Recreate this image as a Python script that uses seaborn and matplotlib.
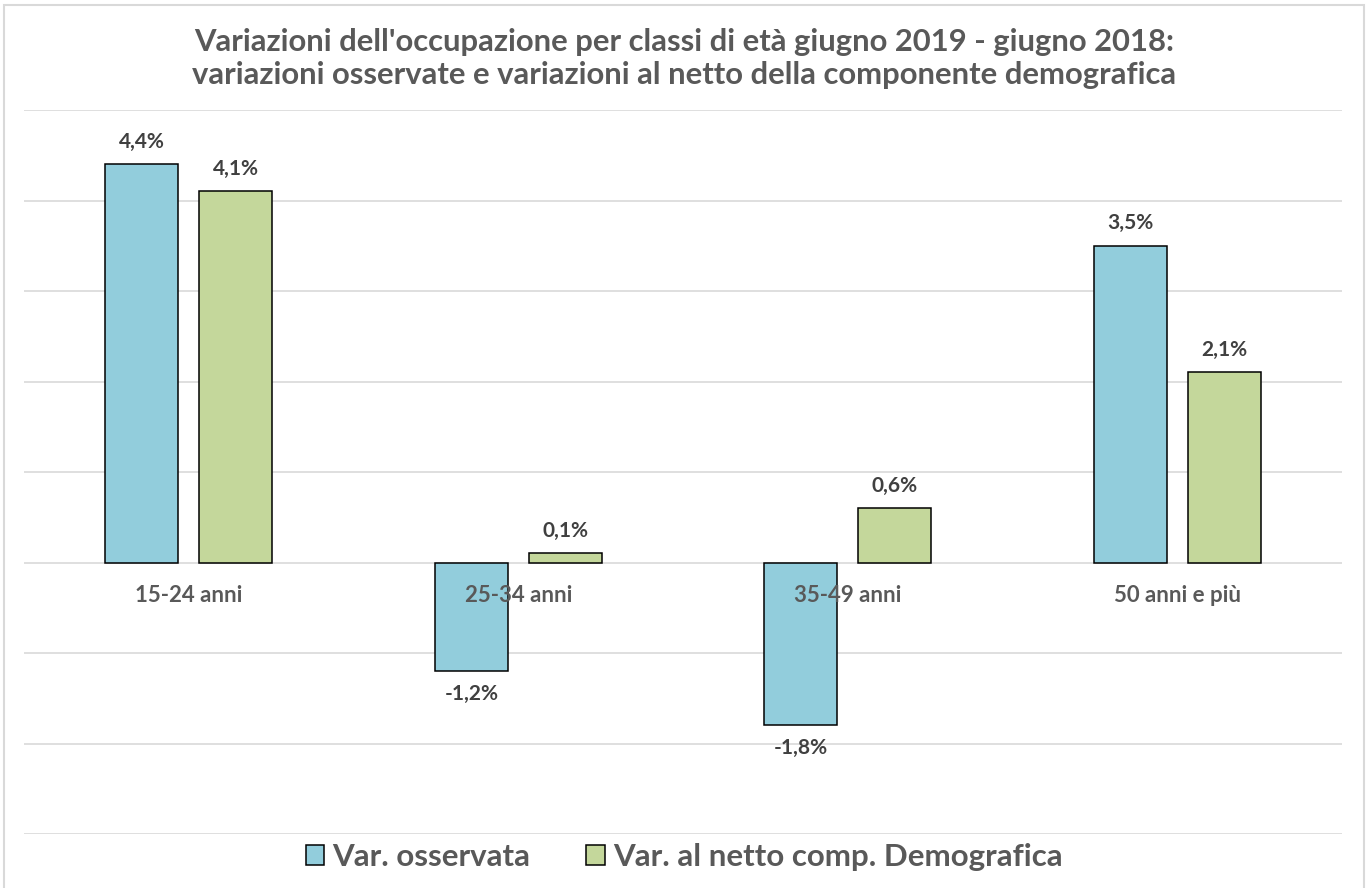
import pandas as pd
import matplotlib.pyplot as plt
import seaborn as sns
from matplotlib.patches import Rectangle

# Data
categories = ['15-24 anni', '25-34 anni', '35-49 anni', '50 anni e più']
series = ['Var. osservata', 'Var. al netto comp. Demografica']
var_osservata = [4.4, -1.2, -1.8, 3.5]
var_netto = [4.1, 0.1, 0.6, 2.1]

df = pd.DataFrame({
    'Classe': categories * 2,
    'Serie': [series[0]] * 4 + [series[1]] * 4,
    'Valore': var_osservata + var_netto,
})

sns.set_style('white')
plt.rcParams['font.family'] = ['Lato', 'DejaVu Sans']
plt.rcParams['font.weight'] = 'bold'   # every text in this chart is bold

text_dark = '#595959'
label_dark = '#404040'

fig = plt.figure(figsize=(13.68, 8.88), dpi=100)
ax = fig.add_axes([0.0175, 0.0608, 0.9635, 0.8153])

sns.barplot(data=df, x='Classe', y='Valore', hue='Serie', order=categories,
            hue_order=series, palette=['#92CDDC', '#C4D79B'], saturation=1,
            width=0.568, gap=0.22, edgecolor='black', linewidth=1.1,
            ax=ax, zorder=2)

# Value labels
for cont, vals in zip(ax.containers, [var_osservata, var_netto]):
    labels = [f"{v:.1f}".replace('.', ',') + '%' for v in vals]
    ax.bar_label(cont, labels=labels, padding=9, fontsize=15,
                 fontweight='bold', color=label_dark)

ax.set_ylim(-3, 5)
ax.set_xlim(-0.5, 3.5)
ax.set_yticks(range(-3, 6))
ax.set_yticklabels([])
ax.set_xticks(range(len(categories)))
ax.set_xticklabels([])
ax.yaxis.grid(True, color='#D9D9D9', linewidth=1.2)
ax.set_axisbelow(True)
for s in ax.spines.values():
    s.set_visible(False)
ax.tick_params(length=0)
ax.set_xlabel('')
ax.set_ylabel('')

# Category labels sit just under the zero line, on top of the bars
for i, cat in enumerate(categories):
    ax.annotate(cat, xy=(i, 0), xytext=(0, -24), textcoords='offset points',
                ha='center', va='center', fontsize=16, fontweight='bold',
                color=text_dark, zorder=5)

fig.suptitle("Variazioni dell'occupazione per classi di età giugno 2019 - giugno 2018:\n"
             "variazioni osservate e variazioni al netto della componente demografica",
             x=0.5, y=0.968, fontsize=22.3, fontweight='bold', color=text_dark,
             linespacing=1.2)

leg = ax.legend(loc='center', bbox_to_anchor=(0.5, 0.035), bbox_transform=fig.transFigure,
                ncol=2, frameon=False, fontsize=22.5, handlelength=0.6, handleheight=0.6,
                handletextpad=0.25, columnspacing=1.8)
for t in leg.get_texts():
    t.set_color(text_dark)
    t.set_fontweight('bold')

# Chart area border
fig.add_artist(Rectangle((4 / 1368, -0.01), 1360 / 1368, 1.004, transform=fig.transFigure,
                         fill=False, edgecolor='#D9D9D9', linewidth=1.5))

fig.savefig('out.png', dpi=100)
